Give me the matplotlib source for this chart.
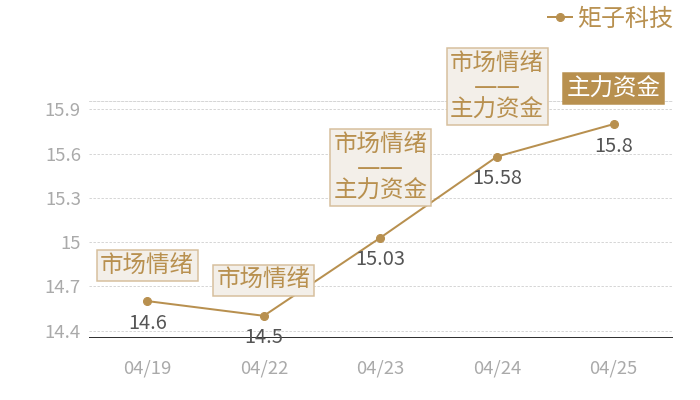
import matplotlib
matplotlib.use("Agg")
import matplotlib.pyplot as plt
from matplotlib.ticker import FixedLocator, FuncFormatter

plt.rcParams["font.family"] = ["Noto Sans CJK SC", "DejaVu Sans"]

dates = ["04/19", "04/22", "04/23", "04/24", "04/25"]
prices = [14.6, 14.5, 15.03, 15.58, 15.8]
tags = ["市场情绪", "市场情绪", "市场情绪\n——\n主力资金", "市场情绪\n——\n主力资金", "主力资金"]
highlight = [False, False, False, False, True]
y_ticks = [14.4, 14.7, 15.0, 15.3, 15.6, 15.9]
series_name = "矩子科技"

GOLD = "#b8904f"
BOX_FILL = "#f3efe9"
BOX_EDGE = "#d6bf9c"

# dpi 72 -> 1 point == 1 pixel
fig = plt.figure(figsize=(700 / 72, 400 / 72), dpi=72)
ax = fig.add_axes([0.127, 0.157, 0.833, 0.591])

x = list(range(len(dates)))
ax.plot(x, prices, color=GOLD, lw=2, marker="o", markersize=8, label=series_name, zorder=3)

ax.set_xlim(-0.5, len(dates) - 0.5)
ax.set_ylim(14.355, 15.958)
ax.yaxis.set_major_locator(FixedLocator(y_ticks))
ax.yaxis.set_major_formatter(FuncFormatter(lambda v, p: f"{v:g}"))
ax.set_xticks(x)
ax.set_xticklabels(dates)
ax.tick_params(axis="y", length=0, pad=8, labelsize=18.5, labelcolor="#aaaaaa")
ax.tick_params(axis="x", length=0, pad=22, labelsize=18.5, labelcolor="#aaaaaa")
ax.grid(axis="y", color="#cccccc", linestyle=(0, (3, 2)), lw=0.8)

for side in ["left", "right"]:
    ax.spines[side].set_visible(False)
ax.spines["top"].set_color("#cccccc")
ax.spines["top"].set_linestyle((0, (3, 2)))
ax.spines["top"].set_linewidth(0.8)
ax.spines["bottom"].set_color("#333333")
ax.spines["bottom"].set_linewidth(1)

for xi, yi, tag, hi in zip(x, prices, tags, highlight):
    ax.annotate(f"{yi:g}", (xi, yi), xytext=(0, -22), textcoords="offset points",
                ha="center", va="center", fontsize=20, color="#555555", zorder=4,
                annotation_clip=False)
    n_lines = 1 if "\n" not in tag else 2
    ax.annotate(tag, (xi, yi), xytext=(0, 35.5 if n_lines == 1 else 70),
                textcoords="offset points", ha="center", va="center",
                fontsize=23.5, linespacing=0.95, multialignment="center",
                family=["DejaVu Sans", "Noto Sans CJK SC"],
                color="white" if hi else GOLD, zorder=5, annotation_clip=False,
                bbox=dict(boxstyle="square,pad=0.15",
                          fc=GOLD if hi else BOX_FILL,
                          ec=GOLD if hi else BOX_EDGE, lw=1.5))

fig.legend(loc="upper right", bbox_to_anchor=(0.993, 1.04), frameon=False,
           fontsize=24, labelcolor=GOLD, handlelength=1.0, handletextpad=0.25,
           markerscale=1.0)

fig.savefig("out.png", dpi=72)
